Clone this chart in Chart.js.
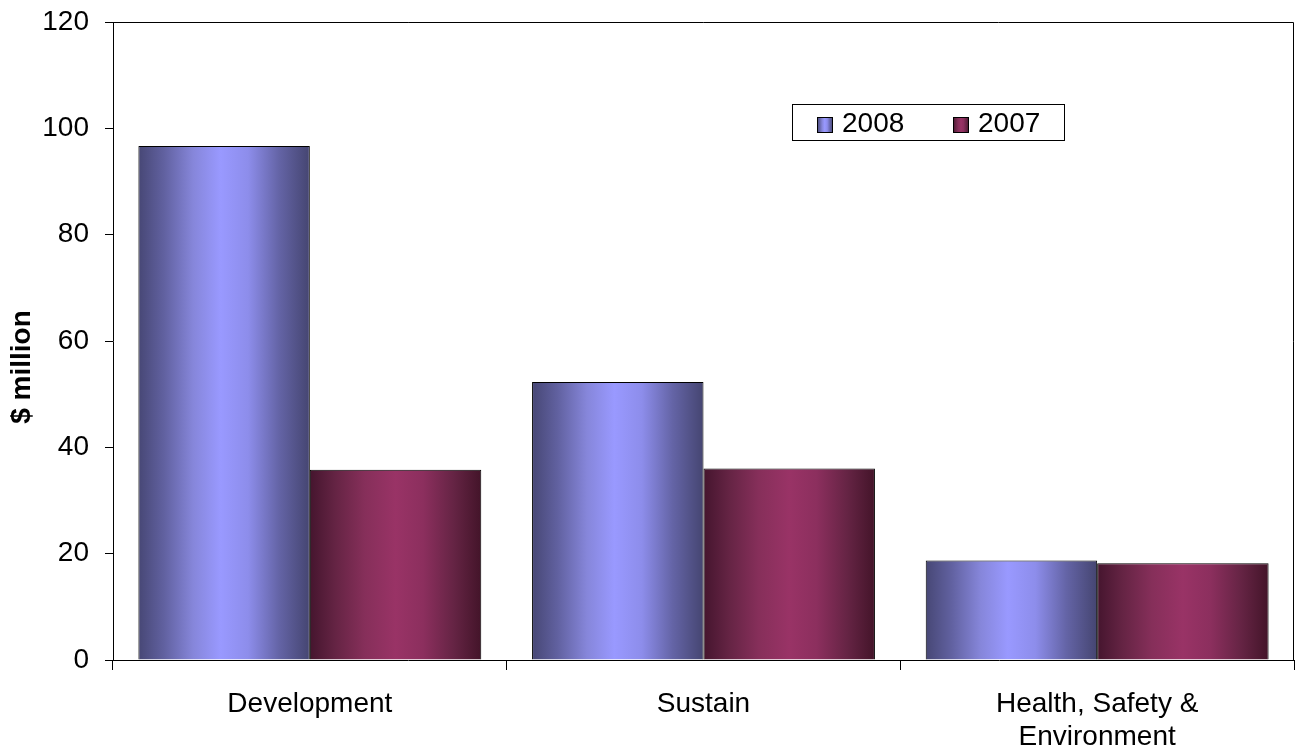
<!DOCTYPE html>
<html>
<head>
<meta charset="utf-8">
<script src="https://cdn.jsdelivr.net/npm/chart.js@4/dist/chart.umd.min.js"></script>
<style>
  html, body { margin: 0; padding: 0; background: #fff; }
  #wrap { width: 1298px; height: 751px; }
</style>
</head>
<body>
<div id="wrap"><canvas id="capexChart"></canvas></div>
<script>
// --- dados ---
const categories = ['Development', 'Sustain', ['Health, Safety &', 'Environment']];
const values2008 = [96.7, 52.3, 18.7];
const values2007 = [35.8, 36.0, 18.2];
const yTicks = [0, 20, 40, 60, 80, 100, 120];

const FONT = '"Liberation Sans", Arial, sans-serif';

// gradiente horizontal: escuro nas bordas, claro no meio
const gradStops = {
    '2008': [[0, '#474775'], [0.15, '#6161a0'], [0.32, '#8686da'], [0.48, '#9999ff'], [0.64, '#8d8deb'], [0.82, '#6464a6'], [1, '#454571']],
    '2007': [[0, '#45152e'], [0.15, '#652444'], [0.32, '#862f5a'], [0.5, '#993366'], [0.66, '#8c2f5e'], [0.84, '#652444'], [1, '#431429']]
};

function makeGrad(ctx, x0, x1, stops) {
    const g = ctx.createLinearGradient(x0, 0, x1, 0);
    stops.forEach(s => g.addColorStop(s[0], s[1]));
    return g;
}

// cada barra recebe o seu próprio gradiente (opções não partilhadas)
const gradientBars = {
    id: 'gradientBars',
    beforeDatasetsDraw(chart) {
        const ctx = chart.ctx;
        chart.data.datasets.forEach((ds, i) => {
            const meta = chart.getDatasetMeta(i);
            meta.data.forEach(el => {
                el.options.backgroundColor = makeGrad(ctx, el.x - el.width / 2, el.x + el.width / 2, gradStops[ds.label]);
            });
        });
    }
};

// moldura da área do gráfico, título do eixo e legenda
const frameAndLegend = {
    id: 'frameAndLegend',
    afterDraw(chart) {
        const ctx = chart.ctx;
        const a = chart.chartArea;
        ctx.save();
        ctx.strokeStyle = '#000';
        ctx.lineWidth = 1;
        ctx.beginPath();
        ctx.moveTo(a.left, a.top + 0.5);
        ctx.lineTo(a.right - 0.5, a.top + 0.5);
        ctx.lineTo(a.right - 0.5, a.bottom);
        ctx.stroke();

        // título do eixo Y
        ctx.fillStyle = '#000';
        ctx.font = 'bold 28px ' + FONT;
        ctx.textAlign = 'center';
        ctx.textBaseline = 'middle';
        ctx.translate(22, 367);
        ctx.rotate(-Math.PI / 2);
        ctx.fillText('$ million', 0, 0);
        ctx.restore();

        // legenda
        ctx.save();
        ctx.fillStyle = '#fff';
        ctx.fillRect(792, 104, 272, 36);
        ctx.strokeStyle = '#000';
        ctx.lineWidth = 1;
        ctx.strokeRect(792.5, 104.5, 272, 36);
        const items = [{ label: '2008', box: 817, text: 842 }, { label: '2007', box: 953, text: 978 }];
        ctx.font = '28px ' + FONT;
        ctx.textBaseline = 'middle';
        ctx.textAlign = 'left';
        items.forEach(it => {
            ctx.fillStyle = makeGrad(ctx, it.box, it.box + 16, gradStops[it.label]);
            ctx.fillRect(it.box, 117, 16, 16);
            ctx.strokeStyle = '#000';
            ctx.strokeRect(it.box + 0.5, 117.5, 15, 15);
            ctx.fillStyle = '#000';
            ctx.fillText(it.label, it.text, 124);
        });
        ctx.restore();
    }
};

const barStyle = {
    backgroundColor: () => '#cccccc',
    borderColor: '#000',
    borderWidth: 1,
    borderSkipped: 'bottom'
};

new Chart(document.getElementById('capexChart'), {
    type: 'bar',
    data: {
        labels: categories,
        datasets: [
            Object.assign({ label: '2008', data: values2008 }, barStyle),
            Object.assign({ label: '2007', data: values2007 }, barStyle)
        ]
    },
    options: {
        responsive: true,
        maintainAspectRatio: false,
        animation: false,
        events: [],
        layout: { padding: { top: 22, right: 4, left: 0, bottom: 0 } },
        datasets: { bar: { categoryPercentage: 0.871, barPercentage: 1 } },
        plugins: { legend: { display: false }, tooltip: { enabled: false } },
        scales: {
            x: {
                grid: { display: true, drawOnChartArea: false, offset: true, color: '#000', tickLength: 10, tickColor: '#000' },
                border: { color: '#000' },
                ticks: { color: '#000', font: { family: FONT, size: 28, lineHeight: 1.2 }, padding: 17, maxRotation: 0 },
                afterFit: s => { s.height = 91; s.paddingLeft = 0; s.paddingRight = 0; }
            },
            y: {
                min: 0, max: 120,
                afterBuildTicks: s => { s.ticks = yTicks.map(v => ({ value: v })); },
                grid: { display: true, drawOnChartArea: false, color: '#000', tickLength: 8, tickColor: '#000' },
                border: { color: '#000' },
                ticks: { color: '#000', font: { family: FONT, size: 28 }, padding: 16 },
                afterFit: s => { s.width = 113; s.paddingTop = 0; s.paddingBottom = 0; }
            }
        }
    },
    plugins: [gradientBars, frameAndLegend]
});
</script>
</body>
</html>
